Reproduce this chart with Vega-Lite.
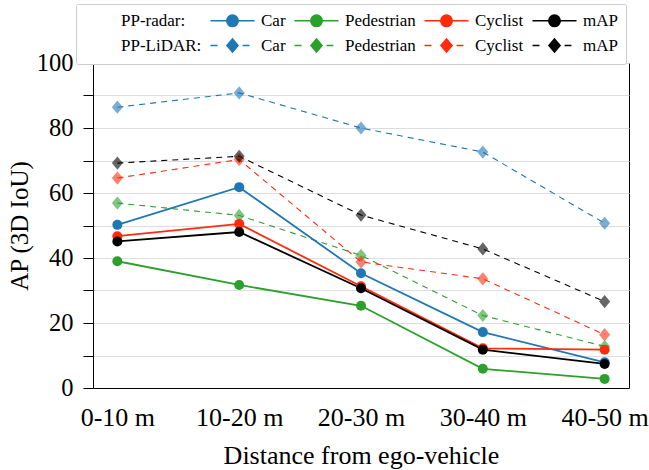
{
  "$schema": "https://vega.github.io/schema/vega-lite/v6.json",
  "width": 536,
  "height": 325,
  "autosize": {"type": "none"},
  "padding": {"left": 93, "top": 63, "right": 20, "bottom": 82},
  "background": "white",
  "data": {
    "values": [
      {"model": "lidar", "cls": "Car", "series": "lidar|Car", "dist": "0-10 m", "ap": 86.4},
      {"model": "lidar", "cls": "Car", "series": "lidar|Car", "dist": "10-20 m", "ap": 90.8},
      {"model": "lidar", "cls": "Car", "series": "lidar|Car", "dist": "20-30 m", "ap": 80.0},
      {"model": "lidar", "cls": "Car", "series": "lidar|Car", "dist": "30-40 m", "ap": 72.6},
      {"model": "lidar", "cls": "Car", "series": "lidar|Car", "dist": "40-50 m", "ap": 50.7},
      {"model": "lidar", "cls": "Pedestrian", "series": "lidar|Pedestrian", "dist": "0-10 m", "ap": 56.9},
      {"model": "lidar", "cls": "Pedestrian", "series": "lidar|Pedestrian", "dist": "10-20 m", "ap": 53.1},
      {"model": "lidar", "cls": "Pedestrian", "series": "lidar|Pedestrian", "dist": "20-30 m", "ap": 40.8},
      {"model": "lidar", "cls": "Pedestrian", "series": "lidar|Pedestrian", "dist": "30-40 m", "ap": 22.3},
      {"model": "lidar", "cls": "Pedestrian", "series": "lidar|Pedestrian", "dist": "40-50 m", "ap": 12.8},
      {"model": "lidar", "cls": "Cyclist", "series": "lidar|Cyclist", "dist": "0-10 m", "ap": 64.6},
      {"model": "lidar", "cls": "Cyclist", "series": "lidar|Cyclist", "dist": "10-20 m", "ap": 70.3},
      {"model": "lidar", "cls": "Cyclist", "series": "lidar|Cyclist", "dist": "20-30 m", "ap": 38.8},
      {"model": "lidar", "cls": "Cyclist", "series": "lidar|Cyclist", "dist": "30-40 m", "ap": 33.6},
      {"model": "lidar", "cls": "Cyclist", "series": "lidar|Cyclist", "dist": "40-50 m", "ap": 16.4},
      {"model": "lidar", "cls": "mAP", "series": "lidar|mAP", "dist": "0-10 m", "ap": 69.2},
      {"model": "lidar", "cls": "mAP", "series": "lidar|mAP", "dist": "10-20 m", "ap": 71.3},
      {"model": "lidar", "cls": "mAP", "series": "lidar|mAP", "dist": "20-30 m", "ap": 53.2},
      {"model": "lidar", "cls": "mAP", "series": "lidar|mAP", "dist": "30-40 m", "ap": 42.8},
      {"model": "lidar", "cls": "mAP", "series": "lidar|mAP", "dist": "40-50 m", "ap": 26.6},
      {"model": "radar", "cls": "Car", "series": "radar|Car", "dist": "0-10 m", "ap": 50.2},
      {"model": "radar", "cls": "Car", "series": "radar|Car", "dist": "10-20 m", "ap": 61.8},
      {"model": "radar", "cls": "Car", "series": "radar|Car", "dist": "20-30 m", "ap": 35.3},
      {"model": "radar", "cls": "Car", "series": "radar|Car", "dist": "30-40 m", "ap": 17.2},
      {"model": "radar", "cls": "Car", "series": "radar|Car", "dist": "40-50 m", "ap": 7.9},
      {"model": "radar", "cls": "Pedestrian", "series": "radar|Pedestrian", "dist": "0-10 m", "ap": 39.0},
      {"model": "radar", "cls": "Pedestrian", "series": "radar|Pedestrian", "dist": "10-20 m", "ap": 31.7},
      {"model": "radar", "cls": "Pedestrian", "series": "radar|Pedestrian", "dist": "20-30 m", "ap": 25.3},
      {"model": "radar", "cls": "Pedestrian", "series": "radar|Pedestrian", "dist": "30-40 m", "ap": 5.9},
      {"model": "radar", "cls": "Pedestrian", "series": "radar|Pedestrian", "dist": "40-50 m", "ap": 2.8},
      {"model": "radar", "cls": "Cyclist", "series": "radar|Cyclist", "dist": "0-10 m", "ap": 46.7},
      {"model": "radar", "cls": "Cyclist", "series": "radar|Cyclist", "dist": "10-20 m", "ap": 50.5},
      {"model": "radar", "cls": "Cyclist", "series": "radar|Cyclist", "dist": "20-30 m", "ap": 31.3},
      {"model": "radar", "cls": "Cyclist", "series": "radar|Cyclist", "dist": "30-40 m", "ap": 12.2},
      {"model": "radar", "cls": "Cyclist", "series": "radar|Cyclist", "dist": "40-50 m", "ap": 11.8},
      {"model": "radar", "cls": "mAP", "series": "radar|mAP", "dist": "0-10 m", "ap": 45.1},
      {"model": "radar", "cls": "mAP", "series": "radar|mAP", "dist": "10-20 m", "ap": 48.0},
      {"model": "radar", "cls": "mAP", "series": "radar|mAP", "dist": "20-30 m", "ap": 30.7},
      {"model": "radar", "cls": "mAP", "series": "radar|mAP", "dist": "30-40 m", "ap": 11.8},
      {"model": "radar", "cls": "mAP", "series": "radar|mAP", "dist": "40-50 m", "ap": 7.4}
    ]
  },
  "encoding": {
    "x": {
      "field": "dist", "type": "nominal",
      "sort": ["0-10 m", "10-20 m", "20-30 m", "30-40 m", "40-50 m"],
      "scale": {"type": "point", "padding": 0.2},
      "axis": {
        "title": "Distance from ego-vehicle",
        "labelAngle": 0, "ticks": false, "labelPadding": 16,
        "labelFontSize": 26, "titleFontSize": 26, "titlePadding": 12, "grid": false
      }
    },
    "y": {
      "field": "ap", "type": "quantitative",
      "scale": {"domain": [0, 100], "nice": false, "zero": true},
      "axis": {
        "title": "AP (3D IoU)",
        "values": [0, 10, 20, 30, 40, 50, 60, 70, 80, 90, 100],
        "labelExpr": "datum.value % 20 === 0 ? datum.label : ''",
        "tickSize": 10, "labelPadding": 10,
        "labelFontSize": 24.5, "titleFontSize": 25, "titlePadding": 4,
        "grid": true,
        "encode": {
          "grid": {"stroke": {"condition": {"test": "datum.value % 20 === 0", "value": "#d4d4d4"}, "value": "#ededed"}},
          "ticks": {"x2": {"condition": {"test": "datum.value % 20 === 0", "value": -10}, "value": -6}}
        }
      }
    },
    "color": {
      "field": "series", "type": "nominal",
      "scale": {
        "domain": ["hdr|PP-radar:", "radar|Car", "radar|Pedestrian", "radar|Cyclist", "radar|mAP",
                   "hdr|PP-LiDAR:", "lidar|Car", "lidar|Pedestrian", "lidar|Cyclist", "lidar|mAP"],
        "range": ["#ffffff", "#1f77b4", "#2ca02c", "#ff2b0f", "#000000",
                  "#ffffff", "#1f77b4", "#2ca02c", "#ff2b0f", "#000000"]
      },
      "legend": {
        "orient": "none", "legendX": -17, "legendY": -59,
        "columns": 5, "direction": "horizontal", "title": null,
        "symbolSize": 144, "symbolStrokeWidth": 1.6, "symbolOpacity": 1,
        "labelOffset": 20, "columnPadding": 5, "rowPadding": 5,
        "padding": 8, "strokeColor": "#cccccc", "fillColor": "white", "cornerRadius": 2,
        "labelFontSize": 17, "labelColor": "black", "labelLimit": 0,
        "labelExpr": "split(datum.value, '|')[1] + (indexof(datum.value, 'hdr') === 0 ? ' ' : '')"
      }
    }
  },
  "layer": [
    {
      "transform": [{"filter": "datum.model === 'lidar'"}],
      "mark": {"type": "line", "strokeWidth": 1.1, "strokeDash": [6, 5]}
    },
    {
      "transform": [{"filter": "datum.model === 'lidar'"}],
      "mark": {"type": "point", "shape": "M0,-1.1L0.92,0L0,1.1L-0.92,0Z", "filled": true, "size": 144, "opacity": 0.6}
    },
    {
      "transform": [{"filter": "datum.model === 'radar'"}],
      "mark": {"type": "line", "strokeWidth": 1.8}
    },
    {
      "transform": [{"filter": "datum.model === 'radar'"}],
      "mark": {"type": "point", "shape": "circle", "filled": true, "size": 100, "opacity": 1}
    },
    {
      "mark": {"type": "point", "filled": true, "size": 0},
      "encoding": {
        "shape": {
          "field": "series", "type": "nominal",
          "scale": {
            "domain": ["hdr|PP-radar:", "radar|Car", "radar|Pedestrian", "radar|Cyclist", "radar|mAP",
                       "hdr|PP-LiDAR:", "lidar|Car", "lidar|Pedestrian", "lidar|Cyclist", "lidar|mAP"],
            "range": [
              "M0,0L0.01,0",
              "M-3.67,0L3.67,0M0.95,0A0.95,0.95,0,1,1,-0.95,0A0.95,0.95,0,1,1,0.95,0Z",
              "M-3.67,0L3.67,0M0.95,0A0.95,0.95,0,1,1,-0.95,0A0.95,0.95,0,1,1,0.95,0Z",
              "M-3.67,0L3.67,0M0.95,0A0.95,0.95,0,1,1,-0.95,0A0.95,0.95,0,1,1,0.95,0Z",
              "M-3.67,0L3.67,0M0.95,0A0.95,0.95,0,1,1,-0.95,0A0.95,0.95,0,1,1,0.95,0Z",
              "M0,0L0.01,0",
              "M-3.67,0L-2.5,0M1.67,0L2.83,0M0,-1.1L0.92,0L0,1.1L-0.92,0Z",
              "M-3.67,0L-2.5,0M1.67,0L2.83,0M0,-1.1L0.92,0L0,1.1L-0.92,0Z",
              "M-3.67,0L-2.5,0M1.67,0L2.83,0M0,-1.1L0.92,0L0,1.1L-0.92,0Z",
              "M-3.67,0L-2.5,0M1.67,0L2.83,0M0,-1.1L0.92,0L0,1.1L-0.92,0Z"
            ]
          },
          "legend": {
            "orient": "none", "legendX": -17, "legendY": -59,
            "columns": 5, "direction": "horizontal", "title": null,
            "symbolSize": 144, "symbolStrokeWidth": 1.6, "symbolOpacity": 1,
            "labelOffset": 20, "columnPadding": 5, "rowPadding": 5,
            "padding": 8, "strokeColor": "#cccccc", "fillColor": "white", "cornerRadius": 2,
            "labelFontSize": 17, "labelColor": "black", "labelLimit": 0,
            "labelExpr": "split(datum.value, '|')[1] + (indexof(datum.value, 'hdr') === 0 ? ' ' : '')"
          }
        }
      }
    }
  ],
  "config": {
    "view": {"stroke": "black", "strokeWidth": 1},
    "font": "Liberation Serif",
    "axis": {
      "labelFont": "Liberation Serif",
      "titleFont": "Liberation Serif",
      "titleFontWeight": "normal", "labelColor": "black", "titleColor": "black",
      "domainColor": "black", "tickColor": "black", "domainWidth": 1
    },
    "legend": {
      "labelFont": "Liberation Serif"
    }
  }
}
